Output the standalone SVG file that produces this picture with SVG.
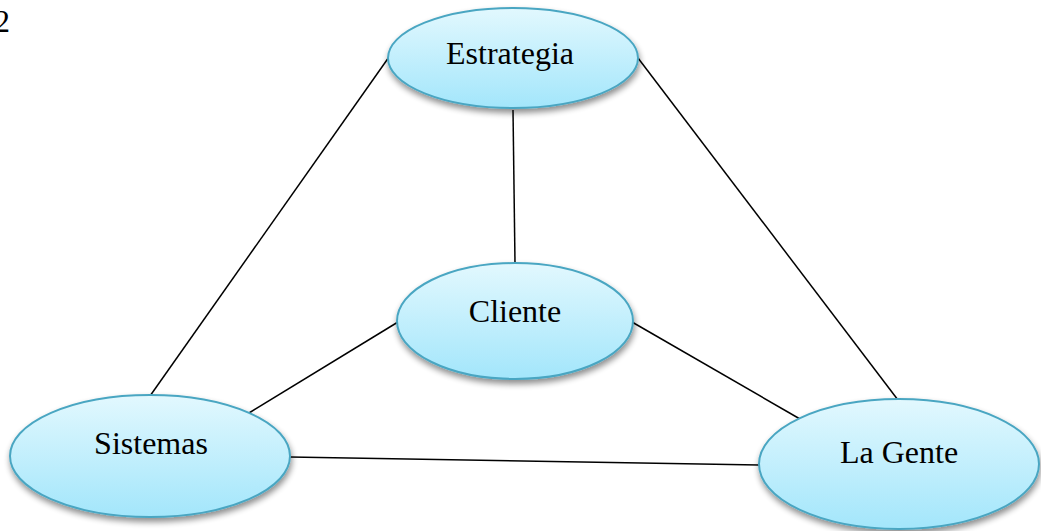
<svg xmlns="http://www.w3.org/2000/svg" width="1041" height="531" viewBox="0 0 1041 531">
  <style>
    .node { fill: url(#bubble); stroke: #4aa6c2; stroke-width: 2; filter: url(#shadow); }
    .label { font-family: "Liberation Serif", "Times New Roman", serif; font-size: 32px; fill: #000; text-anchor: middle; }
    .link { stroke: #000; stroke-width: 1.5; fill: none; }
  </style>
  <defs>
    <linearGradient id="bubble" x1="0" y1="0" x2="0" y2="1">
      <stop offset="0" stop-color="#e2f8fe"/>
      <stop offset="1" stop-color="#a3e6fb"/>
    </linearGradient>
    <filter id="shadow" x="-20%" y="-20%" width="140%" height="150%">
      <feGaussianBlur in="SourceAlpha" stdDeviation="3"/>
      <feOffset dx="1" dy="4" result="blur"/>
      <feComponentTransfer><feFuncA type="linear" slope="0.45"/></feComponentTransfer>
      <feMerge><feMergeNode/><feMergeNode in="SourceGraphic"/></feMerge>
    </filter>
  </defs>
  <rect width="1041" height="531" fill="#fff"/>
  <!-- page number in the top-left corner -->
  <text x="-6" y="32" class="label" style="text-anchor:start">2</text>

  <g id="connectors">
    <line class="link" x1="389" y1="57" x2="150" y2="396"/>
    <line class="link" x1="638" y1="58" x2="898" y2="400"/>
    <line class="link" x1="513" y1="110" x2="515" y2="263"/>
    <line class="link" x1="398" y1="322" x2="249" y2="413"/>
    <line class="link" x1="632" y1="322" x2="800" y2="419"/>
    <line class="link" x1="290" y1="457" x2="759" y2="465"/>
  </g>

  <g id="estrategia">
    <ellipse class="node" cx="513" cy="58" rx="125" ry="50"/>
    <text class="label" x="510" y="64">Estrategia</text>
  </g>
  <g id="cliente">
    <ellipse class="node" cx="515" cy="321" rx="118" ry="58"/>
    <text class="label" x="515" y="322">Cliente</text>
  </g>
  <g id="sistemas">
    <ellipse class="node" cx="150" cy="456" rx="140" ry="61"/>
    <text class="label" x="151" y="454">Sistemas</text>
  </g>
  <g id="la-gente">
    <ellipse class="node" cx="899" cy="464" rx="140" ry="65"/>
    <text class="label" x="899" y="463">La Gente</text>
  </g>
</svg>
